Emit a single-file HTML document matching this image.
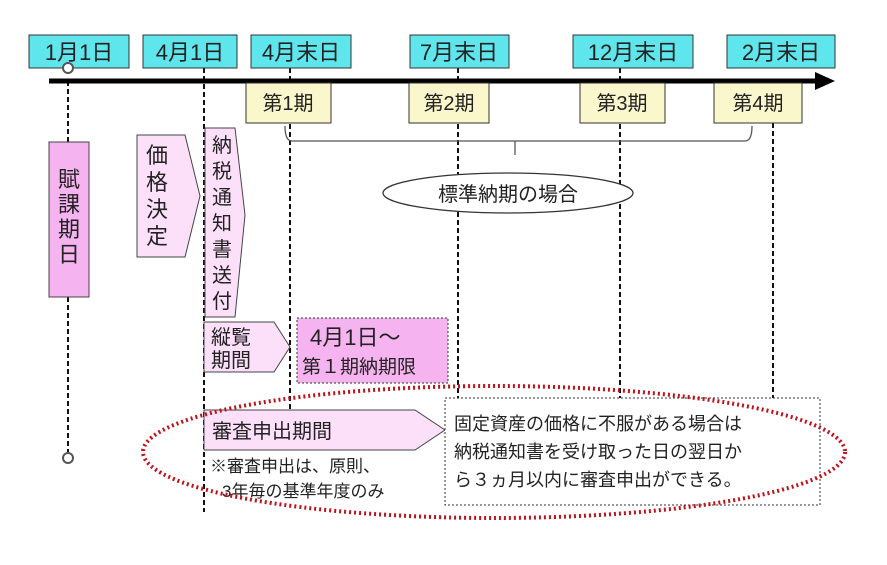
<!DOCTYPE html>
<html><head><meta charset="utf-8"><style>
html,body{margin:0;padding:0;background:#fff;}
svg{display:block;}
text{font-family:"Liberation Sans","Noto Sans CJK JP",sans-serif;fill:#222;}
</style></head><body>
<svg width="887" height="565" viewBox="0 0 887 565" xmlns="http://www.w3.org/2000/svg">
<g stroke="#111" stroke-width="2" stroke-dasharray="5,3">
<line x1="68" y1="81" x2="68" y2="452"/>
<line x1="204" y1="68" x2="204" y2="512"/>
<line x1="290" y1="68" x2="290" y2="410"/>
<line x1="458" y1="68" x2="458" y2="398"/>
<line x1="620" y1="68" x2="620" y2="398"/>
<line x1="773" y1="123" x2="773" y2="398"/>
</g>
<line x1="49" y1="81" x2="820" y2="81" stroke="#000" stroke-width="5"/>
<polygon points="815,72 835,81 815,90" fill="#000"/>
<g fill="#5fe5ec" stroke="#333" stroke-width="1">
<rect x="29" y="35" width="100" height="33"/>
<rect x="143" y="35" width="94" height="33"/>
<rect x="251" y="35" width="100" height="33"/>
<rect x="410" y="35" width="99" height="33"/>
<rect x="573" y="35" width="120" height="33"/>
<rect x="727" y="35" width="108" height="33"/>
</g>
<circle cx="68" cy="68" r="5" fill="#fff" stroke="#555" stroke-width="2"/>
<circle cx="68" cy="458" r="5" fill="#fff" stroke="#555" stroke-width="2"/>
<g font-size="22" text-anchor="middle">
<text x="79" y="60">1月1日</text>
<text x="190" y="60">4月1日</text>
<text x="301" y="60">4月末日</text>
<text x="459" y="60">7月末日</text>
<text x="633" y="60">12月末日</text>
<text x="781" y="60">2月末日</text>
</g>
<g fill="#fbf7cc" stroke="#333" stroke-width="1">
<rect x="246" y="83" width="85" height="40"/>
<rect x="409" y="83" width="80" height="40"/>
<rect x="580" y="83" width="85" height="40"/>
<rect x="714" y="83" width="88" height="40"/>
</g>
<g font-size="20" text-anchor="middle">
<text x="288" y="110">第1期</text>
<text x="449" y="110">第2期</text>
<text x="622" y="110">第3期</text>
<text x="758" y="110">第4期</text>
</g>
<path d="M285,126 Q285,141 292,141 L745,141 Q752,141 752,126 M515,141 L515,155" fill="none" stroke="#555" stroke-width="1.3"/>
<ellipse cx="508" cy="193" rx="125" ry="20" fill="#fff" stroke="#333" stroke-width="1.3"/>
<text x="508" y="201" font-size="20" text-anchor="middle">標準納期の場合</text>
<rect x="49" y="142" width="40" height="155" fill="#f5b3ef" stroke="#444" stroke-width="1"/>
<g font-size="22" text-anchor="middle"><text x="69" y="187">賦</text><text x="69" y="212">課</text><text x="69" y="237">期</text><text x="69" y="262">日</text></g>
<polygon points="137,135 185,135 200,196 185,257 137,257" fill="#fce0f9" stroke="#444" stroke-width="1"/>
<g font-size="22" text-anchor="middle"><text x="157" y="163">価</text><text x="157" y="190">格</text><text x="157" y="217">決</text><text x="157" y="244">定</text></g>
<polygon points="205,128 235,128 245,215 235,317 205,317" fill="#fce0f9" stroke="#444" stroke-width="1"/>
<g font-size="20" text-anchor="middle"><text x="222" y="152">納</text><text x="222" y="178">税</text><text x="222" y="204">通</text><text x="222" y="230">知</text><text x="222" y="256">書</text><text x="222" y="282">送</text><text x="222" y="308">付</text></g>
<polygon points="204,322 274,322 290,347 274,372 204,372" fill="#fce0f9" stroke="#444" stroke-width="1"/>
<g font-size="20"><text x="211" y="344">縦覧</text><text x="211" y="367">期間</text></g>
<rect x="297" y="318" width="151" height="65" fill="#f5b3ef" stroke="#333" stroke-width="1" stroke-dasharray="2,2"/>
<text x="310" y="345" font-size="22">4月1日～</text>
<text x="302" y="373" font-size="19">第１期納期限</text>
<polygon points="204,410 415,410 445,430 415,450 204,450" fill="#fce0f9" stroke="#444" stroke-width="1"/>
<text x="212" y="438" font-size="20">審査申出期間</text>
<text x="210" y="472" font-size="17">※審査申出は、原則、</text>
<text x="222" y="497" font-size="17">3年毎の基準年度のみ</text>
<rect x="445" y="398" width="375" height="107" fill="#fff" stroke="#333" stroke-width="1" stroke-dasharray="2,2"/>
<g font-size="18"><text x="454" y="430">固定資産の価格に不服がある場合は</text><text x="454" y="458">納税通知書を受け取った日の翌日か</text><text x="454" y="486">ら３ヵ月以内に審査申出ができる。</text></g>
<ellipse cx="494" cy="452" rx="351" ry="66" fill="none" stroke="#c0121a" stroke-width="4" stroke-dasharray="2,3"/>
</svg>
</body></html>
